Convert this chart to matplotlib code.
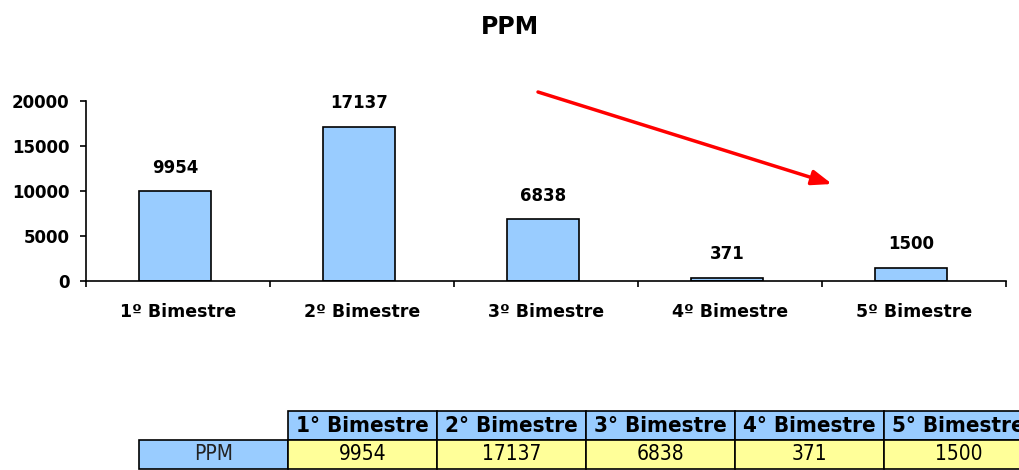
import numpy as np
import matplotlib
matplotlib.use("Agg")
import matplotlib.pyplot as plt
from matplotlib import font_manager

categories = ["1º Bimestre", "2º Bimestre", "3º Bimestre", "4º Bimestre", "5º Bimestre"]
table_cols = ["1° Bimestre", "2° Bimestre", "3° Bimestre", "4° Bimestre", "5° Bimestre"]
ppm = [9954, 17137, 6838, 371, 1500]
yticks = [0, 5000, 10000, 15000, 20000]

blue = "#99CCFF"
yellow = "#FFFF99"

# narrow font for the table, if one is installed
names = {f.name for f in font_manager.fontManager.ttflist}
narrow = "Liberation Sans Narrow" if "Liberation Sans Narrow" in names else "DejaVu Sans"

fig = plt.figure(figsize=(10.2, 4.7), dpi=100)
ax = fig.add_axes([86/1020, 1-281/470, 920/1020, 180/470])

x = np.arange(len(categories))
ax.bar(x - 0.015, ppm, width=0.39, color=blue, edgecolor="black", linewidth=1.2)
for xi, v in zip(x, ppm):
    ax.annotate(str(v), (xi - 0.015, v), xytext=(0, 17), textcoords="offset points",
                ha="center", va="center", fontsize=12, fontweight="bold")

ax.set_xlim(-0.5, 4.5)
ax.set_ylim(0, 20000)
ax.set_yticks(yticks)
ax.set_xticks(x)
ax.set_xticklabels(categories, fontsize=12.5, fontweight="bold")
ax.set_xticks(np.arange(-0.5, 5, 1), minor=True)
ax.tick_params(axis="x", which="major", length=0, pad=16)
ax.tick_params(axis="x", which="minor", length=4, width=1.2, direction="out")
ax.tick_params(axis="y", length=4, width=1.2, pad=8, labelsize=12)
for lab in ax.get_yticklabels():
    lab.set_fontweight("bold")
for s in ["top", "right"]:
    ax.spines[s].set_visible(False)
for s in ["left", "bottom"]:
    ax.spines[s].set_linewidth(1.2)

fig.text(0.5, 1-27/470, "PPM", ha="center", va="center", fontsize=17, fontweight="bold")

ax.annotate("", xy=(832/1020, 1-184/470), xytext=(538/1020, 1-92/470),
            xycoords="figure fraction", textcoords="figure fraction",
            arrowprops=dict(arrowstyle="-|>,head_length=1.2,head_width=0.45",
                            color="red", lw=2.5, shrinkA=0, shrinkB=0),
            annotation_clip=False)

# data table below the chart (cut off at right and bottom like the original)
tax = fig.add_axes([139/1020, 1/470, 894/1020, 58/470])
tax.axis("off")
cell_text = [[""] + table_cols, ["PPM"] + [str(v) for v in ppm]]
tbl = tax.table(cellText=cell_text, bbox=[0, 0, 1, 1], cellLoc="center")
tbl.auto_set_font_size(False)
for (r, c), cell in tbl.get_celld().items():
    cell.set_linewidth(1.2)
    txt = cell.get_text()
    txt.set_fontfamily(narrow)
    txt.set_fontstretch("condensed")
    txt.set_fontsize(15)
    if r == 0 and c == 0:
        cell.set_facecolor("white")
        cell.visible_edges = ""
    elif r == 0:
        cell.set_facecolor(blue)
        txt.set_fontweight("bold")
        txt.set_fontsize(16)
    elif c == 0:
        cell.set_facecolor(blue)
        txt.set_color("#222222")
    else:
        cell.set_facecolor(yellow)

fig.savefig("out.png", dpi=100)
